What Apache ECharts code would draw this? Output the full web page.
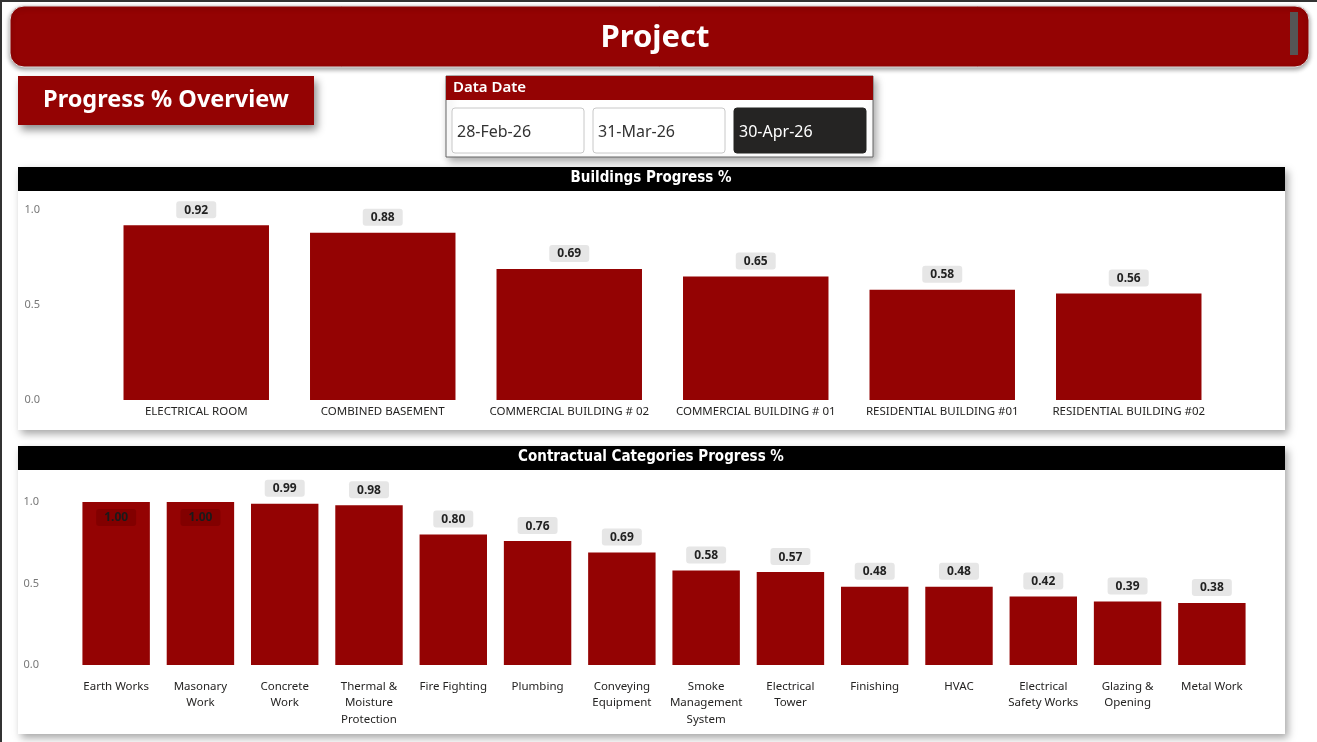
<!DOCTYPE html>
<html><head><meta charset="utf-8">
<script src="https://cdn.jsdelivr.net/npm/echarts/dist/echarts.min.js"></script>
<style>html,body{margin:0;padding:0;background:#fff;overflow:hidden}#c{width:1317px;height:742px}</style>
</head><body><div id="c"></div><script>
// ---- data ----
const pageTitle = 'Project';
const sectionTitle = 'Progress % Overview';
const slicerTitle = 'Data Date';
const dataDates = ['28-Feb-26', '31-Mar-26', '30-Apr-26'];
const selectedDate = '30-Apr-26';
const chart1Title = 'Buildings Progress %';
const chart2Title = 'Contractual Categories Progress %';
const buildingNames = ['ELECTRICAL ROOM', 'COMBINED BASEMENT', 'COMMERCIAL BUILDING # 02', 'COMMERCIAL BUILDING # 01', 'RESIDENTIAL BUILDING #01', 'RESIDENTIAL BUILDING #02'];
const buildingValues = [0.92, 0.88, 0.69, 0.65, 0.58, 0.56];
const categoryNames = ['Earth Works', 'Masonary\nWork', 'Concrete\nWork', 'Thermal &\nMoisture\nProtection', 'Fire Fighting', 'Plumbing', 'Conveying\nEquipment', 'Smoke\nManagement\nSystem', 'Electrical\nTower', 'Finishing', 'HVAC', 'Electrical\nSafety Works', 'Glazing &\nOpening', 'Metal Work'];
const categoryValues = [1.00, 1.00, 0.99, 0.98, 0.80, 0.76, 0.69, 0.58, 0.57, 0.48, 0.48, 0.42, 0.39, 0.38];
const yTicks = [0.0, 0.5, 1.0];

// ---- styles ----
const RED = '#940303';
const UI = '"Noto Sans", "Open Sans", sans-serif';
const HEAD = '"DejaVu Sans Condensed", "DejaVu Sans", sans-serif';

const outsideLabel = {
  show: true, position: 'top', distance: 7,
  formatter: p => p.value.toFixed(2),
  backgroundColor: '#e6e6e6', borderRadius: 3, padding: [3, 8, 2, 8],
  color: '#222', fontWeight: 'bold', fontSize: 12, fontFamily: UI
};
const insideLabel = Object.assign({}, outsideLabel, {
  position: 'insideTop', distance: 7, backgroundColor: '#820000', color: '#1a1a1a'
});

function barData(vals) {
  return vals.map(v => v >= 1 ? { value: v, label: insideLabel } : v);
}

const panelShadow = { shadowBlur: 8, shadowColor: 'rgba(0,0,0,0.35)', shadowOffsetX: 3, shadowOffsetY: 4 };

const graphics = [
  // page borders
  { type: 'rect', shape: { x: 0, y: 0, width: 2, height: 742 }, style: { fill: '#333' }, z: 1 },
  { type: 'rect', shape: { x: 0, y: 0, width: 1317, height: 2 }, style: { fill: '#333' }, z: 1 },
  // top banner
  { type: 'rect', shape: { x: 10, y: 6, width: 1299, height: 61, r: 14 },
    style: Object.assign({ fill: RED, stroke: '#ddd', lineWidth: 1 }, { shadowBlur: 5, shadowColor: 'rgba(0,0,0,0.4)', shadowOffsetY: 2 }), z: 1 },
  { type: 'text', x: 655, y: 38, style: { text: pageTitle, fill: '#fff', font: 'bold 31px ' + UI, textAlign: 'center', textVerticalAlign: 'middle' }, z: 2 },
  { type: 'rect', shape: { x: 1290, y: 12, width: 8, height: 43 }, style: { fill: '#555' }, z: 2 },
  // section box
  { type: 'rect', shape: { x: 18, y: 76, width: 296, height: 49 }, style: Object.assign({ fill: RED }, { shadowBlur: 8, shadowColor: 'rgba(0,0,0,0.45)', shadowOffsetX: 3, shadowOffsetY: 5 }), z: 1 },
  { type: 'text', x: 166, y: 100, style: { text: sectionTitle, fill: '#fff', font: 'bold 23.5px ' + UI, textAlign: 'center', textVerticalAlign: 'middle' }, z: 2 },
  // slicer
  { type: 'rect', shape: { x: 446, y: 76, width: 427, height: 81 }, style: Object.assign({ fill: '#fff', stroke: '#666', lineWidth: 1 }, panelShadow), z: 1 },
  { type: 'rect', shape: { x: 446, y: 76, width: 427, height: 24 }, style: { fill: RED }, z: 2 },
  { type: 'text', x: 453, y: 88, style: { text: slicerTitle, fill: '#fff', font: '600 15px ' + UI, textAlign: 'left', textVerticalAlign: 'middle' }, z: 3 }
];
dataDates.forEach((d, i) => {
  const x = 452 + i * 141;
  const sel = d === selectedDate;
  graphics.push({ type: 'rect', shape: { x: x, y: 108, width: 132, height: 45, r: 3 },
    style: { fill: sel ? '#252423' : '#fff', stroke: sel ? '#252423' : '#c8c8c8', lineWidth: 1 }, z: 2 });
  graphics.push({ type: 'text', x: x + 5, y: 132, style: { text: d, fill: sel ? '#fff' : '#333', font: '16px ' + UI, textAlign: 'left', textVerticalAlign: 'middle' }, z: 3 });
});
// panels
[[167, 263, chart1Title], [446, 288, chart2Title]].forEach(([y, h, t]) => {
  graphics.push({ type: 'rect', shape: { x: 18, y: y, width: 1267, height: h }, style: Object.assign({ fill: '#fff' }, panelShadow), z: -5 });
  graphics.push({ type: 'rect', shape: { x: 18, y: y, width: 1267, height: 24 }, style: { fill: '#000' }, z: 1 });
  graphics.push({ type: 'text', x: 651, y: y + 11, style: { text: t, fill: '#fff', font: 'bold 15px ' + HEAD, textAlign: 'center', textVerticalAlign: 'middle' }, z: 2 });
});

const chart = echarts.init(document.getElementById('c'), null, { renderer: 'canvas' });
const yAxisBase = (margin) => ({
  type: 'value', min: yTicks[0], max: yTicks[yTicks.length - 1], interval: yTicks[1] - yTicks[0],
  splitLine: { show: false }, axisLine: { show: false }, axisTick: { show: false },
  axisLabel: { color: '#777', fontSize: 11, fontFamily: UI, margin: margin, formatter: v => v.toFixed(1) }
});
chart.setOption({
  animation: false,
  backgroundColor: 'transparent',
  graphic: graphics,
  grid: [
    { left: 103, right: 95, top: 210, bottom: 342 },
    { left: 74, right: 63, top: 502, bottom: 77 }
  ],
  xAxis: [
    { type: 'category', gridIndex: 0, data: buildingNames,
      axisLine: { show: false }, axisTick: { show: false },
      axisLabel: { color: '#252423', fontSize: 11.5, fontFamily: UI, margin: 6, interval: 0 } },
    { type: 'category', gridIndex: 1, data: categoryNames,
      axisLine: { show: false }, axisTick: { show: false },
      axisLabel: { color: '#252423', fontSize: 11.5, fontFamily: UI, margin: 13, interval: 0, lineHeight: 16.5 } }
  ],
  yAxis: [
    Object.assign({ gridIndex: 0 }, yAxisBase(63)),
    Object.assign({ gridIndex: 1 }, yAxisBase(35))
  ],
  series: [
    { type: 'bar', xAxisIndex: 0, yAxisIndex: 0, data: barData(buildingValues),
      barCategoryGap: '22%', itemStyle: { color: RED }, label: outsideLabel },
    { type: 'bar', xAxisIndex: 1, yAxisIndex: 1, data: barData(categoryValues),
      barCategoryGap: '20%', itemStyle: { color: RED }, label: outsideLabel }
  ]
});
</script></body></html>
